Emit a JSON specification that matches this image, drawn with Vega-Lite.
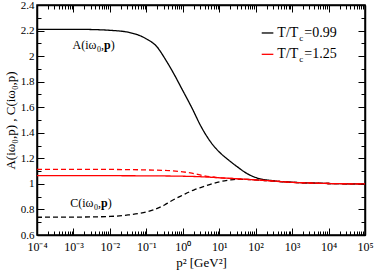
{
  "$schema": "https://vega.github.io/schema/vega-lite/v6.json",
  "width": 328,
  "height": 230,
  "autosize": {"type": "none"},
  "padding": {"left": 37, "top": 5, "right": 9, "bottom": 38},
  "background": "white",
  "config": {
    "font": "Liberation Serif",
    "view": {"stroke": "black", "strokeWidth": 1.5},
    "axis": {"grid": false, "domainColor": "black", "domainWidth": 1.5, "tickColor": "black", "tickWidth": 1, "labelColor": "black", "titleColor": "black", "labelFont": "Liberation Serif", "titleFont": "Liberation Serif", "titleFontWeight": "normal"}
  },
  "datasets": {
    "curves": [
      {"p2": 0.0001, "T": "0.99", "f": "A", "v": 2.21},
      {"p2": 0.001, "T": "0.99", "f": "A", "v": 2.21},
      {"p2": 0.003162, "T": "0.99", "f": "A", "v": 2.208},
      {"p2": 0.01, "T": "0.99", "f": "A", "v": 2.202},
      {"p2": 0.03162, "T": "0.99", "f": "A", "v": 2.187},
      {"p2": 0.1, "T": "0.99", "f": "A", "v": 2.135},
      {"p2": 0.1995, "T": "0.99", "f": "A", "v": 2.07},
      {"p2": 0.3162, "T": "0.99", "f": "A", "v": 1.985},
      {"p2": 0.5623, "T": "0.99", "f": "A", "v": 1.864},
      {"p2": 1, "T": "0.99", "f": "A", "v": 1.73},
      {"p2": 1.778, "T": "0.99", "f": "A", "v": 1.595},
      {"p2": 3.162, "T": "0.99", "f": "A", "v": 1.45},
      {"p2": 4.217, "T": "0.99", "f": "A", "v": 1.388},
      {"p2": 5.623, "T": "0.99", "f": "A", "v": 1.334},
      {"p2": 7.499, "T": "0.99", "f": "A", "v": 1.288},
      {"p2": 10, "T": "0.99", "f": "A", "v": 1.25},
      {"p2": 17.78, "T": "0.99", "f": "A", "v": 1.188},
      {"p2": 31.62, "T": "0.99", "f": "A", "v": 1.133},
      {"p2": 56.23, "T": "0.99", "f": "A", "v": 1.083},
      {"p2": 100, "T": "0.99", "f": "A", "v": 1.05},
      {"p2": 316.2, "T": "0.99", "f": "A", "v": 1.024},
      {"p2": 1000, "T": "0.99", "f": "A", "v": 1.013},
      {"p2": 3162, "T": "0.99", "f": "A", "v": 1.007},
      {"p2": 10000, "T": "0.99", "f": "A", "v": 1.003},
      {"p2": 100000, "T": "0.99", "f": "A", "v": 1.0},

      {"p2": 0.0001, "T": "0.99", "f": "C", "v": 0.739},
      {"p2": 0.001, "T": "0.99", "f": "C", "v": 0.74},
      {"p2": 0.01, "T": "0.99", "f": "C", "v": 0.745},
      {"p2": 0.03162, "T": "0.99", "f": "C", "v": 0.757},
      {"p2": 0.0676, "T": "0.99", "f": "C", "v": 0.77},
      {"p2": 0.155, "T": "0.99", "f": "C", "v": 0.796},
      {"p2": 0.3162, "T": "0.99", "f": "C", "v": 0.835},
      {"p2": 0.4467, "T": "0.99", "f": "C", "v": 0.861},
      {"p2": 1, "T": "0.99", "f": "C", "v": 0.912},
      {"p2": 1.995, "T": "0.99", "f": "C", "v": 0.952},
      {"p2": 3.673, "T": "0.99", "f": "C", "v": 0.978},
      {"p2": 6.31, "T": "0.99", "f": "C", "v": 1.0},
      {"p2": 10.47, "T": "0.99", "f": "C", "v": 1.017},
      {"p2": 17.78, "T": "0.99", "f": "C", "v": 1.028},
      {"p2": 30.2, "T": "0.99", "f": "C", "v": 1.036},
      {"p2": 56.23, "T": "0.99", "f": "C", "v": 1.036},
      {"p2": 100, "T": "0.99", "f": "C", "v": 1.031},
      {"p2": 316.2, "T": "0.99", "f": "C", "v": 1.022},
      {"p2": 1000, "T": "0.99", "f": "C", "v": 1.012},
      {"p2": 3162, "T": "0.99", "f": "C", "v": 1.007},
      {"p2": 10000, "T": "0.99", "f": "C", "v": 1.003},
      {"p2": 100000, "T": "0.99", "f": "C", "v": 1.0},

      {"p2": 0.0001, "T": "1.25", "f": "A", "v": 1.064},
      {"p2": 0.01, "T": "1.25", "f": "A", "v": 1.064},
      {"p2": 0.1, "T": "1.25", "f": "A", "v": 1.063},
      {"p2": 1, "T": "1.25", "f": "A", "v": 1.06},
      {"p2": 3.162, "T": "1.25", "f": "A", "v": 1.056},
      {"p2": 10, "T": "1.25", "f": "A", "v": 1.048},
      {"p2": 31.62, "T": "1.25", "f": "A", "v": 1.04},
      {"p2": 100, "T": "1.25", "f": "A", "v": 1.031},
      {"p2": 316.2, "T": "1.25", "f": "A", "v": 1.022},
      {"p2": 1000, "T": "1.25", "f": "A", "v": 1.012},
      {"p2": 3162, "T": "1.25", "f": "A", "v": 1.007},
      {"p2": 10000, "T": "1.25", "f": "A", "v": 1.003},
      {"p2": 100000, "T": "1.25", "f": "A", "v": 1.0},

      {"p2": 0.0001, "T": "1.25", "f": "C", "v": 1.114},
      {"p2": 0.01, "T": "1.25", "f": "C", "v": 1.113},
      {"p2": 0.1, "T": "1.25", "f": "C", "v": 1.109},
      {"p2": 0.4467, "T": "1.25", "f": "C", "v": 1.103},
      {"p2": 1, "T": "1.25", "f": "C", "v": 1.094},
      {"p2": 1.778, "T": "1.25", "f": "C", "v": 1.084},
      {"p2": 3.673, "T": "1.25", "f": "C", "v": 1.064},
      {"p2": 10.47, "T": "1.25", "f": "C", "v": 1.048},
      {"p2": 31.62, "T": "1.25", "f": "C", "v": 1.04},
      {"p2": 100, "T": "1.25", "f": "C", "v": 1.031},
      {"p2": 316.2, "T": "1.25", "f": "C", "v": 1.022},
      {"p2": 1000, "T": "1.25", "f": "C", "v": 1.012},
      {"p2": 3162, "T": "1.25", "f": "C", "v": 1.007},
      {"p2": 10000, "T": "1.25", "f": "C", "v": 1.003},
      {"p2": 100000, "T": "1.25", "f": "C", "v": 1.0}
    ],
    "notes": [
      {"p2": 0.0043, "v": 2.087, "head": "A(iω"},
      {"p2": 0.00355, "v": 0.848, "head": "C(iω"}
    ],
    "legend": [
      {"T": "0.99", "x1": 146.6, "x2": 305.5, "xt": 1483, "v": 2.181, "label": "=0.99"},
      {"T": "1.25", "x1": 146.6, "x2": 305.5, "xt": 1483, "v": 2.014, "label": "=1.25"}
    ]
  },
  "layer": [
    {
      "data": {"name": "curves"},
      "mark": {"type": "line", "strokeWidth": 1.3, "interpolate": "monotone"},
      "encoding": {
        "x": {"field": "p2", "type": "quantitative",
          "scale": {"type": "log", "domain": [0.0001, 100000], "nice": false},
          "axis": {"orient": "bottom", "title": "p² [GeV²]", "titleFontSize": 13, "titlePadding": 1,
            "values": [0.0001,0.0002,0.0003,0.0004,0.0005,0.0006,0.0007,0.0008,0.0009,0.001,0.002,0.003,0.004,0.005,0.006,0.007,0.008,0.009,0.01,0.02,0.03,0.04,0.05,0.06,0.07,0.08,0.09,0.1,0.2,0.3,0.4,0.5,0.6,0.7,0.8,0.9,1,2,3,4,5,6,7,8,9,10,20,30,40,50,60,70,80,90,100,200,300,400,500,600,700,800,900,1000,2000,3000,4000,5000,6000,7000,8000,9000,10000,20000,30000,40000,50000,60000,70000,80000,90000,100000],
            "labelExpr": "abs(log(datum.value)/LN10 - round(log(datum.value)/LN10)) < 0.000001 ? (round(log(datum.value)/LN10) == -4 ? '10⁻⁴' : round(log(datum.value)/LN10) == -3 ? '10⁻³' : round(log(datum.value)/LN10) == -2 ? '10⁻²' : round(log(datum.value)/LN10) == -1 ? '10⁻¹' : round(log(datum.value)/LN10) == 0 ? '10⁰' : round(log(datum.value)/LN10) == 1 ? '10¹' : round(log(datum.value)/LN10) == 2 ? '10²' : round(log(datum.value)/LN10) == 3 ? '10³' : round(log(datum.value)/LN10) == 4 ? '10⁴' : '10⁵') : ''",
            "labelFontSize": 12, "labelPadding": 13, "labelFlush": false, "labelOverlap": false,
            "tickSize": {"condition": {"test": "abs(log(datum.value)/LN10 - round(log(datum.value)/LN10)) < 0.000001", "value": -7}, "value": -4}
          }
        },
        "y": {"field": "v", "type": "quantitative",
          "scale": {"domain": [0.6, 2.4], "nice": false, "zero": false},
          "axis": {"orient": "left", "title": "A(iω₀,p) , C(iω₀,p)", "titleFontSize": 13, "titlePadding": 3,
            "values": [0.6,0.7,0.8,0.9,1,1.1,1.2,1.3,1.4,1.5,1.6,1.7,1.8,1.9,2,2.1,2.2,2.3,2.4],
            "labelExpr": "abs(datum.value*5 - round(datum.value*5)) < 0.01 ? format(datum.value, '.1~f') : ''",
            "labelFontSize": 11, "labelPadding": 10, "labelOverlap": false, "labelFlush": false,
            "tickSize": {"condition": {"test": "abs(datum.value*5 - round(datum.value*5)) < 0.01", "value": -7}, "value": -4}
          }
        },
        "color": {"field": "T", "type": "nominal", "scale": {"domain": ["0.99", "1.25"], "range": ["#000000", "#ff0000"]}, "legend": null},
        "strokeDash": {"field": "f", "type": "nominal", "scale": {"domain": ["A", "C"], "range": [[1, 0], [5, 3]]}, "legend": null},
        "detail": {"field": "f"}
      }
    },
    {
      "data": {"name": "curves"},
      "mark": {"type": "point", "opacity": 0},
      "encoding": {
        "x": {"field": "p2", "type": "quantitative",
          "axis": {"orient": "top", "title": null, "labels": false,
            "values": [0.0001,0.0002,0.0003,0.0004,0.0005,0.0006,0.0007,0.0008,0.0009,0.001,0.002,0.003,0.004,0.005,0.006,0.007,0.008,0.009,0.01,0.02,0.03,0.04,0.05,0.06,0.07,0.08,0.09,0.1,0.2,0.3,0.4,0.5,0.6,0.7,0.8,0.9,1,2,3,4,5,6,7,8,9,10,20,30,40,50,60,70,80,90,100,200,300,400,500,600,700,800,900,1000,2000,3000,4000,5000,6000,7000,8000,9000,10000,20000,30000,40000,50000,60000,70000,80000,90000,100000],
            "tickSize": {"condition": {"test": "abs(log(datum.value)/LN10 - round(log(datum.value)/LN10)) < 0.000001", "value": -7}, "value": -4}
          }
        },
        "y": {"field": "v", "type": "quantitative",
          "axis": {"orient": "right", "title": null, "labels": false,
            "values": [0.6,0.7,0.8,0.9,1,1.1,1.2,1.3,1.4,1.5,1.6,1.7,1.8,1.9,2,2.1,2.2,2.3,2.4],
            "tickSize": {"condition": {"test": "abs(datum.value*5 - round(datum.value*5)) < 0.01", "value": -7}, "value": -4}
          }
        }
      }
    },
    {
      "data": {"name": "notes"},
      "mark": {"type": "text", "align": "right", "baseline": "alphabetic", "fontSize": 12, "dy": 4},
      "encoding": {
        "x": {"field": "p2", "type": "quantitative", "axis": null},
        "y": {"field": "v", "type": "quantitative", "axis": null},
        "text": {"field": "head"}
      }
    },
    {
      "data": {"name": "notes"},
      "mark": {"type": "text", "align": "left", "baseline": "alphabetic", "fontSize": 8, "dx": 0.5, "dy": 7, "text": "0"},
      "encoding": {
        "x": {"field": "p2", "type": "quantitative", "axis": null},
        "y": {"field": "v", "type": "quantitative", "axis": null}
      }
    },
    {
      "data": {"name": "notes"},
      "mark": {"type": "text", "align": "left", "baseline": "alphabetic", "fontSize": 12, "dx": 4.5, "dy": 4, "text": ","},
      "encoding": {
        "x": {"field": "p2", "type": "quantitative", "axis": null},
        "y": {"field": "v", "type": "quantitative", "axis": null}
      }
    },
    {
      "data": {"name": "notes"},
      "mark": {"type": "text", "align": "left", "baseline": "alphabetic", "fontSize": 12, "fontWeight": "bold", "dx": 7.5, "dy": 4, "text": "p"},
      "encoding": {
        "x": {"field": "p2", "type": "quantitative", "axis": null},
        "y": {"field": "v", "type": "quantitative", "axis": null}
      }
    },
    {
      "data": {"name": "notes"},
      "mark": {"type": "text", "align": "left", "baseline": "alphabetic", "fontSize": 12, "dx": 14.2, "dy": 4, "text": ")"},
      "encoding": {
        "x": {"field": "p2", "type": "quantitative", "axis": null},
        "y": {"field": "v", "type": "quantitative", "axis": null}
      }
    },
    {
      "data": {"name": "legend"},
      "mark": {"type": "rule", "strokeWidth": 1.3},
      "encoding": {
        "x": {"field": "x1", "type": "quantitative", "axis": null},
        "x2": {"field": "x2"},
        "y": {"field": "v", "type": "quantitative", "axis": null},
        "color": {"field": "T", "type": "nominal", "legend": null}
      }
    },
    {
      "data": {"name": "legend"},
      "mark": {"type": "text", "align": "right", "baseline": "alphabetic", "fontSize": 14, "dy": 4, "text": "T/T"},
      "encoding": {
        "x": {"field": "xt", "type": "quantitative", "axis": null},
        "y": {"field": "v", "type": "quantitative", "axis": null}
      }
    },
    {
      "data": {"name": "legend"},
      "mark": {"type": "text", "align": "left", "baseline": "alphabetic", "fontSize": 9, "dx": 1, "dy": 8, "text": "c"},
      "encoding": {
        "x": {"field": "xt", "type": "quantitative", "axis": null},
        "y": {"field": "v", "type": "quantitative", "axis": null}
      }
    },
    {
      "data": {"name": "legend"},
      "mark": {"type": "text", "align": "left", "baseline": "alphabetic", "fontSize": 14, "dx": 6, "dy": 4},
      "encoding": {
        "x": {"field": "xt", "type": "quantitative", "axis": null},
        "y": {"field": "v", "type": "quantitative", "axis": null},
        "text": {"field": "label"}
      }
    }
  ],
  "resolve": {"axis": {"x": "independent", "y": "independent"}}
}
